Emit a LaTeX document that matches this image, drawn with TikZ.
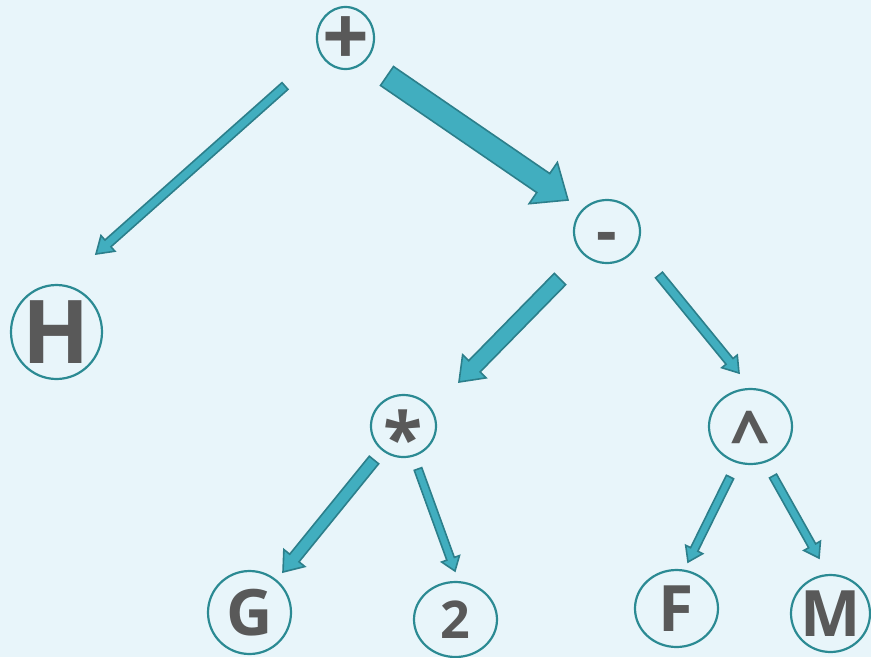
\documentclass[tikz,border=0pt]{standalone}
\usepackage{fontspec}
\setmainfont{Open Sans}
\usetikzlibrary{shapes.geometric,calc}
\definecolor{bgc}{HTML}{E8F5FA}
\definecolor{ringc}{HTML}{2B8A93}
\definecolor{arrfill}{HTML}{41AEBF}
\definecolor{arrline}{HTML}{2C7F8B}
\definecolor{txtc}{HTML}{595959}
\tikzset{
  tnode/.style={ellipse, draw=ringc, line width=2.2pt, inner sep=0pt, text=txtc, font=\bfseries},
  barrow/.style={fill=arrfill, draw=arrline, line width=1.6pt, line join=miter},
}
\newcommand\fsz[1]{\fontsize{#1}{#1}\selectfont}
% #1 size, #2 drop (em), #3 text
\newcommand\ntext[3]{\makebox[0pt]{\fsz{#1}\raisebox{-#2em}[0pt][0pt]{#3}}}
% #1 start, #2 tip, #3 half shaft, #4 half head, #5 head length
\newcommand\blockarrow[5]{%
  \coordinate (hb) at ($(#2)!#5!(#1)$);
  \draw[barrow] ($(#1)!#3!90:(#2)$) -- ($(hb)!#3!90:(#2)$) -- ($(hb)!#4!90:(#2)$)
    -- (#2) -- ($(hb)!#4!-90:(#2)$) -- ($(hb)!#3!-90:(#2)$) -- ($(#1)!#3!-90:(#2)$) -- cycle;
}
\begin{document}
\begin{tikzpicture}[x=1pt,y=-1pt]
\fill[bgc] (0,0) rectangle (871,657);
\useasboundingbox (0,0) rectangle (871,657);

\node[tnode, minimum width=57pt, minimum height=62pt] (plus) at (345.5,38) {\ntext{82}{0.34}{+}};
\node[tnode, minimum width=66pt, minimum height=63pt] (minus) at (607,231.5) {\ntext{64}{0.35}{-}};
\node[tnode, minimum width=91pt, minimum height=94pt] (H) at (56.5,332) {\ntext{88}{0.357}{H}};
\node[tnode, minimum width=65pt, minimum height=62pt] (mul) at (403.5,426) {\ntext{72}{0.53}{*}};
\node[tnode, minimum width=83pt, minimum height=75pt] (pow) at (750.5,426.5) {\ntext{70}{0.50}{\textasciicircum}};
\node[tnode, minimum width=83pt, minimum height=83pt] (G) at (249.5,612.5) {\ntext{64}{0.357}{G}};
\node[tnode, minimum width=83pt, minimum height=75pt] (two) at (455.5,619.5) {\ntext{52}{0.357}{2}};
\node[tnode, minimum width=83pt, minimum height=77pt] (F) at (676.5,608.5) {\ntext{64}{0.357}{F}};
\node[tnode, minimum width=79pt, minimum height=77pt] (M) at (830.5,613.5) {\ntext{64}{0.357}{M}};

\coordinate (plusH-s) at (285,86);   \coordinate (plusH-e) at (96,254);
\coordinate (plusM-s) at (387,76);   \coordinate (plusM-e) at (568,200);
\coordinate (minM-s) at (560,279);   \coordinate (minM-e) at (459,382);
\coordinate (minP-s) at (659,275);   \coordinate (minP-e) at (739,373);
\coordinate (mulG-s) at (374,460);   \coordinate (mulG-e) at (283,572);
\coordinate (mulT-s) at (418,469);   \coordinate (mulT-e) at (455,571);
\coordinate (powF-s) at (730,477);   \coordinate (powF-e) at (688,562);
\coordinate (powM-s) at (773,476);   \coordinate (powM-e) at (819,558);

\blockarrow{plusH-s}{plusH-e}{4.5pt}{10.5pt}{16pt}
\blockarrow{plusM-s}{plusM-e}{11.5pt}{25pt}{30pt}
\blockarrow{minM-s}{minM-e}{8pt}{16.5pt}{22pt}
\blockarrow{minP-s}{minP-e}{4.5pt}{10pt}{15pt}
\blockarrow{mulG-s}{mulG-e}{6pt}{13.5pt}{18pt}
\blockarrow{mulT-s}{mulT-e}{4pt}{9.5pt}{13pt}
\blockarrow{powF-s}{powF-e}{4pt}{9.5pt}{14pt}
\blockarrow{powM-s}{powM-e}{4pt}{9.5pt}{14pt}
\end{tikzpicture}
\end{document}
